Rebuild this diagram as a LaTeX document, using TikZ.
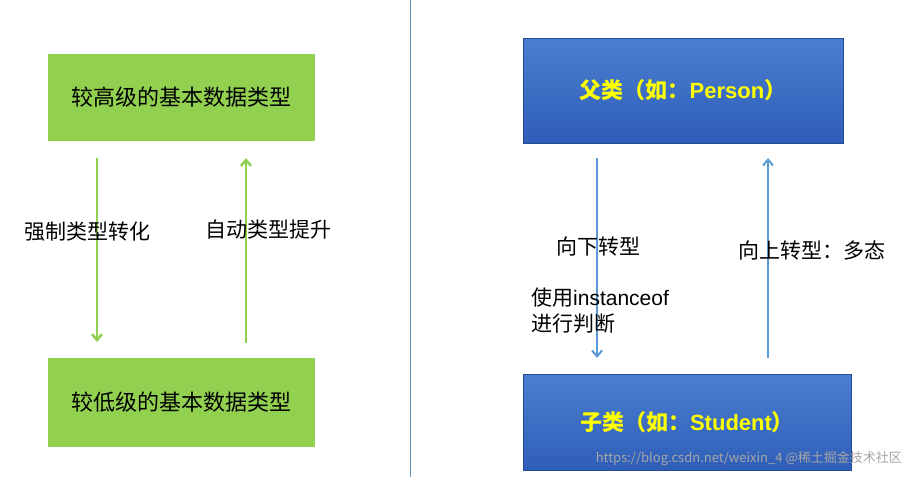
\documentclass[tikz,border=0pt]{standalone}
\usepackage{fontspec}
\setmainfont{Noto Sans CJK SC}
\newfontfamily\lat{Liberation Sans}
\usetikzlibrary{arrows.meta}
\definecolor{grn}{HTML}{92D050}
\definecolor{bl1}{HTML}{4A7ED0}
\definecolor{bl2}{HTML}{2F5EB8}
\definecolor{arr}{HTML}{5B9BD5}
\definecolor{ylw}{HTML}{FFFF00}
\tikzset{
 gbox/.style={fill=grn,draw=none,inner sep=0pt,font=\fontsize{22}{26}\selectfont},
 bbox/.style={top color=bl1,bottom color=bl2,draw=bl2!80!black,inner sep=0pt,text=ylw,font=\fontsize{22}{26}\selectfont\bfseries},
 garrow/.style={draw=grn,line width=2.5pt,-{Straight Barb[length=6pt,width=10pt]}},
 barrow/.style={draw=arr,line width=2pt,-{Straight Barb[length=6pt,width=10pt]}},
 lbl/.style={font=\fontsize{21}{26}\selectfont,inner sep=0pt}
}
\begin{document}
\begin{tikzpicture}[x=1pt,y=-1pt]
\useasboundingbox (0,0) rectangle (908,477);
\fill[white] (0,0) rectangle (908,477);
\draw[arr!70!gray,line width=0.8pt] (410,0) -- (410,477);
\node[gbox,minimum width=267pt,minimum height=87pt] (h) at (181.5,97.5) {较高级的基本数据类型};
\node[gbox,minimum width=267pt,minimum height=89pt] (l) at (181.5,402.5) {较低级的基本数据类型};
\coordinate (a1) at (97,158); \coordinate (a2) at (97,342);
\coordinate (b1) at (246,343); \coordinate (b2) at (246,158);
\draw[garrow] (a1) -- (a2);
\draw[garrow] (b1) -- (b2);
\node[lbl] (t1) at (87,232) {强制类型转化};
\node[lbl] (t2) at (268,230) {自动类型提升};
\node[bbox,minimum width=320pt,minimum height=105pt] (p) at (683,90.5) {父类（如：{\lat\bfseries Person}）};
\node[bbox,minimum width=328pt,minimum height=96pt] (s) at (687,422) {子类（如：{\lat\bfseries Student}）};
\coordinate (c1) at (597,158); \coordinate (c2) at (597,358);
\coordinate (d1) at (768,358); \coordinate (d2) at (768,158);
\draw[barrow] (c1) -- (c2);
\draw[barrow] (d1) -- (d2);
\node[lbl] (t3) at (598,247) {向下转型};
\node[lbl,anchor=west,align=left] (t4) at (531,311) {使用{\lat instanceof}\\进行判断};
\node[lbl] (t5) at (812,250) {向上转型：多态};
\node[font=\fontsize{13}{15}\selectfont,text=gray!70,inner sep=0pt,anchor=east] (w) at (902,459) {https://blog.csdn.net/weixin\_4 @稀土掘金技术社区};
\end{tikzpicture}
\end{document}
